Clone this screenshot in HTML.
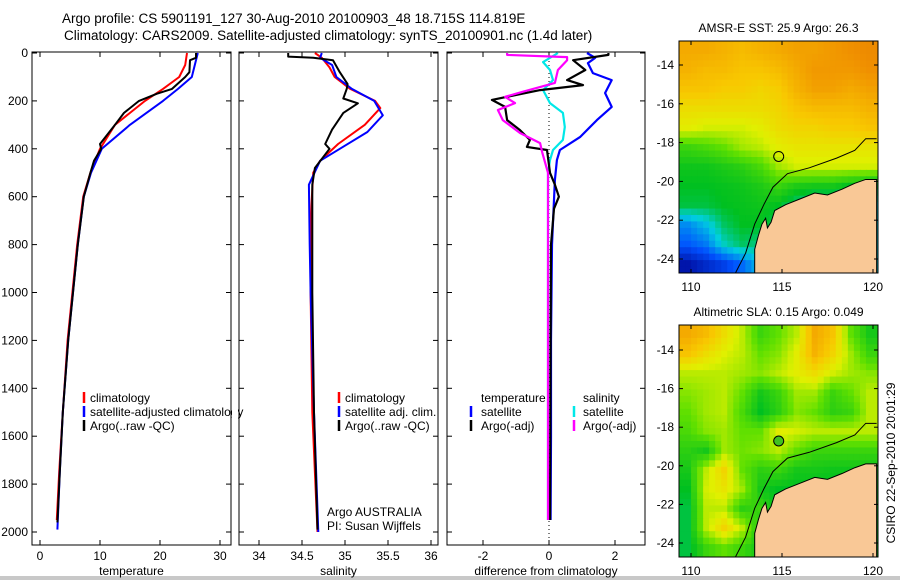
<!DOCTYPE html>
<html><head><meta charset="utf-8"><style>
html,body{margin:0;padding:0;background:#fff;}
svg{display:block;font-family:"Liberation Sans",sans-serif;}
</style></head><body>
<svg id="fig" width="900" height="580" viewBox="0 0 900 580">
<rect width="900" height="580" fill="#fff"/>
<text x="62" y="23" font-size="13.5">Argo profile: CS 5901191_127 30-Aug-2010 20100903_48 18.715S 114.819E</text>
<text x="64" y="40" font-size="13.5">Climatology: CARS2009. Satellite-adjusted climatology: synTS_20100901.nc (1.4d later)</text>
<rect x="0" y="576" width="900" height="4" fill="#c8c8c8"/>
<g id="g"></g>
</svg>
<script>
// ---------- data ----------
const depthTicks=[0,200,400,600,800,1000,1200,1400,1600,1800,2000];
const tempTicks=[0,10,20,30];
const salTicks=[34,34.5,35,35.5,36];
const diffTicks=[-2,0,2];
// temperature
const tClimDepth=[0,50,100,150,200,300,400,500,600,800,1000,1200,1500,1750,1950];
const tClim=[24.5,24.2,23.2,20.5,17.5,12.5,10,8.4,7.2,6.2,5.4,4.6,3.8,3.2,2.8];
const tSatDepth=[0,50,100,150,200,300,400,500,600,800,1000,1200,1500,1750,1990];
const tSat=[26.3,25.8,25.3,23,20.5,15,10.3,8.5,7.3,6.3,5.5,4.7,3.8,3.3,2.9];
const tArgoDepth=[0,20,30,80,100,150,170,200,250,300,380,400,450,500,600,800,1000,1200,1500,1750,1960];
const tArgo=[26,26,25,24.9,24.2,22,19.5,16.5,14,12.5,10,10.2,9,8.4,7.3,6.3,5.5,4.7,3.8,3.3,2.9];
// salinity
const sClimDepth=[0,20,60,100,150,200,230,300,380,450,500,700,1000,1500,2000];
const sClim=[34.65,34.73,34.82,34.88,35.06,35.35,35.41,35.23,34.92,34.71,34.63,34.6,34.6,34.62,34.68];
const sSatDepth=[0,20,50,100,150,200,260,330,400,450,550,800,1000,1500,2000];
const sSat=[34.73,34.71,34.85,34.9,35.08,35.34,35.44,35.26,34.94,34.71,34.58,34.59,34.6,34.64,34.69];
const sArgoDepth=[0,15,20,30,80,130,150,190,210,250,320,380,400,480,550,600,1000,1500,1990];
const sArgo=[34.34,34.34,34.63,34.86,34.94,35.03,35.02,34.98,35.15,34.98,34.85,34.77,34.82,34.65,34.62,34.62,34.62,34.64,34.68];
// differences
const dTSatDepth=[0,20,42,84,113,167,225,280,351,405,447,530,800,1200,1600,1950];
const dTSat=[1.15,1.4,1.18,1.33,1.9,1.7,1.9,1.45,0.94,0.33,0.24,0.18,0.09,0.06,0.06,0.05];
const dTArgoDepth=[0,8,30,71,113,134,155,196,225,280,322,363,392,405,500,550,600,650,800,1200,1600,1950];
const dTArgo=[1.8,1.8,0.73,1.1,0.55,1.03,-0.27,-1.73,-1.33,-1.27,-0.88,-0.58,-0.67,-0.06,0.03,0.18,0.3,0.15,0.06,0.05,0.04,0.03];
const dSSatDepth=[0,38,71,113,155,209,250,309,363,405,447,500,800,1200,1600,1950];
const dSSat=[0.27,-0.18,0.03,0.12,-0.18,0.03,0.42,0.48,0.42,0.12,0.03,-0.03,-0.03,-0.03,-0.03,-0.03];
const dSArgoDepth=[0,8,17,30,71,125,162,183,209,238,280,334,376,418,500,800,1200,1600,1950];
const dSArgo=[-1.27,-1.27,0.55,0.55,0.27,0.18,-0.8,-1.33,-1.03,-1.55,-1.4,-0.88,-0.27,-0.2,-0.03,-0.03,-0.03,-0.03,-0.03];
// maps
const sstGrid=[
[0.82,0.82,0.80,0.78,0.80,0.82,0.84,0.84,0.86,0.88,0.90],
[0.80,0.78,0.78,0.76,0.76,0.78,0.82,0.86,0.86,0.86,0.88],
[0.76,0.76,0.74,0.74,0.72,0.74,0.80,0.84,0.84,0.82,0.84],
[0.70,0.70,0.70,0.70,0.70,0.72,0.76,0.78,0.78,0.78,0.80],
[0.66,0.64,0.64,0.64,0.66,0.70,0.72,0.72,0.74,0.74,0.76],
[0.50,0.52,0.55,0.60,0.62,0.66,0.68,0.68,0.68,0.68,0.68],
[0.44,0.44,0.46,0.48,0.52,0.60,0.64,0.64,0.64,0.64,0.64],
[0.42,0.42,0.43,0.44,0.46,0.50,0.46,0.45,0.45,0.42,0.40],
[0.40,0.40,0.42,0.43,0.44,0.42,0.36,0.32,0.32,0.30,0.30],
[0.22,0.28,0.38,0.42,0.42,0.38,0.30,0.30,0.30,0.30,0.30],
[0.16,0.20,0.32,0.38,0.36,0.30,0.30,0.30,0.30,0.30,0.30],
[0.04,0.08,0.12,0.18,0.28,0.30,0.30,0.30,0.30,0.30,0.30]];
const slaGrid=[
[0.82,0.78,0.70,0.62,0.50,0.55,0.62,0.82,0.76,0.55,0.45],
[0.76,0.70,0.65,0.62,0.55,0.58,0.66,0.80,0.72,0.60,0.50],
[0.62,0.62,0.62,0.60,0.58,0.62,0.66,0.70,0.64,0.60,0.58],
[0.58,0.60,0.62,0.55,0.45,0.50,0.60,0.60,0.50,0.55,0.62],
[0.55,0.60,0.62,0.52,0.42,0.48,0.58,0.55,0.48,0.50,0.62],
[0.52,0.58,0.60,0.55,0.55,0.66,0.64,0.62,0.62,0.62,0.62],
[0.48,0.45,0.60,0.56,0.58,0.62,0.55,0.50,0.50,0.50,0.50],
[0.45,0.62,0.72,0.55,0.48,0.50,0.45,0.45,0.44,0.44,0.44],
[0.42,0.64,0.68,0.60,0.45,0.42,0.42,0.42,0.42,0.42,0.42],
[0.40,0.62,0.62,0.48,0.50,0.42,0.42,0.42,0.42,0.42,0.42],
[0.40,0.62,0.72,0.62,0.45,0.42,0.42,0.42,0.42,0.42,0.42],
[0.40,0.50,0.55,0.50,0.45,0.42,0.42,0.42,0.42,0.42,0.42]];
const landLon=[113.5,113.5,113.7,113.9,114.1,114.2,114.4,114.6,115.2,116,116.8,117.5,118.3,119,119.6,120.2,120.2];
const landLat=[-24.8,-23.5,-22.8,-22.2,-21.9,-22.4,-22.1,-21.5,-21.2,-20.9,-20.6,-20.7,-20.4,-20.1,-19.9,-19.9,-24.8];
const shelfLon=[112.4,113.0,113.5,114,114.5,115.3,116.5,118,119,119.6,120.2];
const shelfLat=[-24.8,-23.7,-22.2,-21.2,-20.3,-19.6,-19.3,-18.8,-18.4,-17.8,-17.8];
const argoLon=114.819, argoLat=-18.715;
const latTicks=[-14,-16,-18,-20,-22,-24];
const lonTicks=[110,115,120];

// ---------- drawing ----------
const NS="http://www.w3.org/2000/svg";
const G=document.getElementById('g');
function el(tag,attrs,parent){const e=document.createElementNS(NS,tag);for(const k in attrs)e.setAttribute(k,attrs[k]);(parent||G).appendChild(e);return e;}
const top0=53, yScale=(532-53)/2000;
const yD=d=>top0+d*yScale;
const PB=545;

function panel(name,x0,x1,xf,ticks,fmt,xlabel,showY){
  const r=el('rect',{x:x0,y:52,width:x1-x0,height:PB-52,fill:'none',stroke:'#000','stroke-width':1});
  
  
  ticks.forEach(t=>{const x=xf(t);
    el('line',{x1:x,x2:x,y1:52,y2:57,stroke:'#000'});el('line',{x1:x,x2:x,y1:PB,y2:PB-5,stroke:'#000'});
    const tx=el('text',{x:x,y:560,'font-size':12,'text-anchor':'middle'});tx.textContent=fmt(t);
    
    });
  depthTicks.forEach(d=>{const y=yD(d);
    el('line',{x1:x0,x2:x0+5,y1:y,y2:y,stroke:'#000'});el('line',{x1:x1,x2:x1-5,y1:y,y2:y,stroke:'#000'});
    if(showY){const tx=el('text',{x:x0-4,y:y+4,'font-size':12,'text-anchor':'end'});tx.textContent=d;
      
      }});
  const xl=el('text',{x:(x0+x1)/2,y:575,'font-size':12,'text-anchor':'middle'});xl.textContent=xlabel;
  
  
}
function series(name,depths,vals,xf,color,w){
  const pts=depths.map((d,i)=>xf(vals[i]).toFixed(1)+','+yD(d).toFixed(1)).join(' ');
  const p=el('polyline',{points:pts,fill:'none',stroke:color,'stroke-width':w||2,'stroke-linejoin':'round'});
  
  
}
function txt(name,x,y,s,anchor){const t=el('text',{x:x,y:y,'font-size':12,'text-anchor':anchor||'start'});t.textContent=s;
  
  return t;}
function legLine(name,x,y,color){const l=el('line',{x1:x,x2:x,y1:y-10,y2:y+1,stroke:color,'stroke-width':2.5});
  
  }

// panel 1 temperature
const xT=v=>40+v*6;
panel('temperature-panel',32,231,xT,tempTicks,v=>v,'temperature',true);
series('temp-climatology-line',tClimDepth,tClim,xT,'#ff0000',2);
series('temp-satellite-line',tSatDepth,tSat,xT,'#0000ff',2);
series('temp-argo-line',tArgoDepth,tArgo,xT,'#000000',2);
legLine('legend-climatology-swatch',84,402,'#ff0000');txt('legend-climatology',90,402,'climatology');
legLine('legend-satellite-swatch',84,416,'#0000ff');txt('legend-satellite-adjusted',90,416,'satellite-adjusted climatology');
legLine('legend-argo-swatch',84,430,'#000');txt('legend-argo',90,430,'Argo(..raw -QC)');

// panel 2 salinity
const xS=v=>259+(v-34)*86;
el('rect',{x:232,y:50,width:6,height:500,fill:'#fff'});
panel('salinity-panel',239,438,xS,salTicks,v=>v,'salinity',false);
series('sal-climatology-line',sClimDepth,sClim,xS,'#ff0000',2);
series('sal-satellite-line',sSatDepth,sSat,xS,'#0000ff',2);
series('sal-argo-line',sArgoDepth,sArgo,xS,'#000000',2);
legLine('legend2-climatology-swatch',339,402,'#ff0000');txt('legend2-climatology',345,402,'climatology');
legLine('legend2-satellite-swatch',339,416,'#0000ff');txt('legend2-satellite',345,416,'satellite adj. clim.');
legLine('legend2-argo-swatch',339,430,'#000');txt('legend2-argo',345,430,'Argo(..raw -QC)');
txt('argo-australia-label',327,516,'Argo AUSTRALIA');
txt('pi-label',327,530,'PI: Susan Wijffels');

// panel 3 differences
const xDf=v=>549+v*33;
panel('difference-panel',447,645,xDf,diffTicks,v=>v,'difference from climatology',false);
const zl=el('line',{x1:549,x2:549,y1:53,y2:PB,stroke:'#000','stroke-dasharray':'1,3'});


series('diff-temp-satellite-line',dTSatDepth,dTSat,xDf,'#0000ff',2.2);
series('diff-sal-satellite-line',dSSatDepth,dSSat,xDf,'#00e8e8',2.2);
series('diff-temp-argo-line',dTArgoDepth,dTArgo,xDf,'#000000',2.2);
series('diff-sal-argo-line',dSArgoDepth,dSArgo,xDf,'#ff00ff',2.2);
txt('legend3-temperature-header',481,402,'temperature');
legLine('legend3-temp-sat-swatch',471,416,'#0000ff');txt('legend3-temp-sat',481,416,'satellite');
legLine('legend3-temp-argo-swatch',471,430,'#000');txt('legend3-temp-argo',481,430,'Argo(-adj)');
txt('legend3-salinity-header',583,402,'salinity');
legLine('legend3-sal-sat-swatch',574,416,'#00e8e8');txt('legend3-sal-sat',583,416,'satellite');
legLine('legend3-sal-argo-swatch',574,430,'#ff00ff');txt('legend3-sal-argo',583,430,'Argo(-adj)');

// maps
const cstops=[[0,[0,0,140]],[0.15,[0,80,255]],[0.3,[0,208,224]],[0.42,[0,192,32]],[0.55,[96,224,0]],[0.65,[224,240,0]],[0.75,[248,200,0]],[0.88,[240,144,0]],[1,[224,112,0]]];
function cmap(v){for(let i=1;i<cstops.length;i++){if(v<=cstops[i][0]){const a=cstops[i-1],b=cstops[i],t=(v-a[0])/(b[0]-a[0]);
  return 'rgb('+a[1].map((c,k)=>Math.round(c+(b[1][k]-c)*t)).join(',')+')';}}return 'rgb(224,112,0)';}
function sample(grid,fr,fc){
  const R=grid.length-1,C=grid[0].length-1;
  fr=Math.max(0,Math.min(R,fr));fc=Math.max(0,Math.min(C,fc));
  const r0=Math.floor(fr),c0=Math.floor(fc),r1=Math.min(R,r0+1),c1=Math.min(C,c0+1),tr=fr-r0,tc=fc-c0;
  return grid[r0][c0]*(1-tr)*(1-tc)+grid[r0][c1]*(1-tr)*tc+grid[r1][c0]*tr*(1-tc)+grid[r1][c1]*tr*tc;
}
function map(name,grid,yTop,yBot,lat14y,lat24y,title){
  const xL=679,xR=878,lonK=18.2,lonX=v=>691+(v-110)*lonK;
  const latK=(lat24y-lat14y)/10,latY=v=>lat14y+(-14-v)*latK;
  const clip=el('clipPath',{id:name+'-clip'});el('rect',{x:xL,y:yTop,width:xR-xL,height:yBot-yTop},clip);
  const g=el('g',{'clip-path':'url(#'+name+'-clip)'});
  
  
  const rows=grid.length,cols=grid[0].length,sub=3;
  const cw=(xR-xL)/(cols*sub),ch=(yBot-yTop)/(rows*sub);
  for(let r=0;r<rows*sub;r++)for(let c=0;c<cols*sub;c++){
    const v=sample(grid,(r+0.5)/sub-0.5,(c+0.5)/sub-0.5);
    const cell=el('rect',{x:xL+c*cw,y:yTop+r*ch,width:cw+0.6,height:ch+0.6,fill:cmap(v)},g);
    
    }
  const land=el('polygon',{points:landLon.map((v,i)=>lonX(v)+','+latY(landLat[i])).join(' '),fill:'#f9c896',stroke:'#000','stroke-width':1},g);
  
  
  const sh=el('polyline',{points:shelfLon.map((v,i)=>lonX(v)+','+latY(shelfLat[i])).join(' '),fill:'none',stroke:'#000','stroke-width':1},g);
  
  
  const fr=el('rect',{x:xL,y:yTop,width:xR-xL,height:yBot-yTop,fill:'none',stroke:'#000'});
  
  
  const c=el('circle',{cx:lonX(argoLon),cy:latY(argoLat),r:5,fill:name==='sla-map'?'#40c020':'none',stroke:'#000','stroke-width':1});
  
  
  latTicks.forEach(t=>{const y=latY(t);el('line',{x1:xL,x2:xL+4,y1:y,y2:y,stroke:'#000'});el('line',{x1:xR,x2:xR-4,y1:y,y2:y,stroke:'#000'});
    txt(name+'-lat-tick-label',xL-5,y+4,t,'end');});
  lonTicks.forEach(t=>{const x=lonX(t);el('line',{x1:x,x2:x,y1:yTop,y2:yTop+4,stroke:'#000'});el('line',{x1:x,x2:x,y1:yBot,y2:yBot-4,stroke:'#000'});
    txt(name+'-lon-tick-label',x,yBot+18,t,'middle');});
  txt(name+'-title',(xL+xR)/2,yTop-9,title,'middle');
}
map('sst-map',sstGrid,41,273,65,259,'AMSR-E SST: 25.9 Argo: 26.3');
map('sla-map',slaGrid,325,557,350,543,'Altimetric SLA: 0.15 Argo: 0.049');
const ts=el('text',{x:0,y:0,'font-size':12,'text-anchor':'middle',transform:'translate(895,463) rotate(-90)'});
ts.textContent='CSIRO 22-Sep-2010 20:01:29';


</script>
</body></html>
